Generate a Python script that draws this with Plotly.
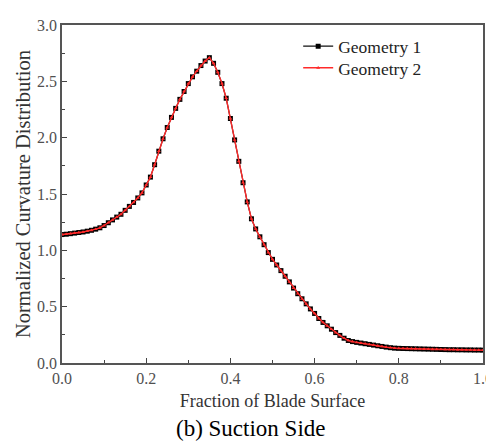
import plotly.graph_objects as go

fraction = [i / 100 for i in range(101)]

geometry_1 = [
    1.140, 1.143, 1.148, 1.153, 1.158, 1.163, 1.170, 1.178, 1.188, 1.200,
    1.220, 1.245, 1.270, 1.295, 1.320, 1.355, 1.390, 1.425, 1.465, 1.510,
    1.580, 1.650, 1.760, 1.880, 1.990, 2.090, 2.180, 2.260, 2.340, 2.410,
    2.480, 2.540, 2.590, 2.640, 2.680, 2.710, 2.660, 2.580, 2.480, 2.350,
    2.170, 1.980, 1.790, 1.600, 1.430, 1.280, 1.190, 1.120, 1.050, 0.980,
    0.920, 0.870, 0.820, 0.770, 0.720, 0.665, 0.615, 0.570, 0.525, 0.480,
    0.440, 0.395, 0.360, 0.330, 0.300, 0.270, 0.245, 0.220, 0.200, 0.190,
    0.183, 0.177, 0.171, 0.165, 0.159, 0.153, 0.147, 0.141, 0.136, 0.132,
    0.130, 0.129, 0.128, 0.127, 0.126, 0.125, 0.124, 0.123, 0.122, 0.121,
    0.120, 0.119, 0.118, 0.118, 0.117, 0.117, 0.116, 0.116, 0.115, 0.115,
    0.114,
]

geometry_2 = [
    1.140, 1.143, 1.148, 1.153, 1.158, 1.163, 1.170, 1.178, 1.188, 1.200,
    1.220, 1.245, 1.270, 1.295, 1.320, 1.355, 1.390, 1.425, 1.465, 1.510,
    1.580, 1.650, 1.760, 1.880, 1.990, 2.090, 2.180, 2.260, 2.340, 2.410,
    2.480, 2.540, 2.590, 2.640, 2.680, 2.710, 2.660, 2.580, 2.480, 2.350,
    2.170, 1.980, 1.790, 1.600, 1.430, 1.280, 1.190, 1.120, 1.050, 0.980,
    0.920, 0.870, 0.820, 0.770, 0.720, 0.665, 0.615, 0.570, 0.525, 0.480,
    0.440, 0.395, 0.360, 0.330, 0.300, 0.270, 0.245, 0.220, 0.200, 0.190,
    0.183, 0.177, 0.171, 0.165, 0.159, 0.153, 0.147, 0.141, 0.136, 0.132,
    0.130, 0.129, 0.128, 0.127, 0.126, 0.125, 0.124, 0.123, 0.122, 0.121,
    0.120, 0.119, 0.118, 0.118, 0.117, 0.117, 0.116, 0.116, 0.115, 0.115,
    0.114,
]

x_ticks = [0.0, 0.2, 0.4, 0.6, 0.8, 1.0]
x_tick_labels = ["0.0", "0.2", "0.4", "0.6", "0.8", "1.0"]
y_ticks = [0.0, 0.5, 1.0, 1.5, 2.0, 2.5, 3.0]
y_tick_labels = ["0.0", "0.5", "1.0", "1.5", "2.0", "2.5", "3.0"]

FONT = "Liberation Serif"

fig = go.Figure()
fig.add_trace(go.Scatter(
    x=fraction, y=geometry_1, name="Geometry 1", mode="lines+markers",
    line=dict(color="#111111", width=1.2),
    marker=dict(symbol="square", size=5, color="#000000"),
    legend="legend",
))
fig.add_trace(go.Scatter(
    x=fraction, y=geometry_2, name="Geometry 2", mode="lines+markers",
    line=dict(color="#ff2a2a", width=1.4),
    marker=dict(symbol="triangle-up", size=3.5, color="#ff2a2a"),
    legend="legend2",
))

axis_common = dict(
    showgrid=False, zeroline=False, showline=True, mirror=True,
    linecolor="#555555", linewidth=1.5,
    ticks="inside", ticklen=5, tickwidth=1.2, tickcolor="#444444",
    tickfont=dict(family=FONT, size=16, color="#505050"),
    ticklabeloverflow="allow",
    minor=dict(ticks="inside", ticklen=3, tickwidth=1, tickcolor="#444444"),
)

fig.update_xaxes(
    range=[0, 1], tickvals=x_ticks, ticktext=x_tick_labels,
    minor_dtick=0.1,
    title=dict(text="Fraction of Blade Surface",
               font=dict(family=FONT, size=18, color="#333333"), standoff=8),
    **axis_common,
)
fig.update_yaxes(
    range=[0, 3], tickvals=y_ticks, ticktext=y_tick_labels,
    minor_dtick=0.25,
    title=dict(text="Normalized Curvature Distribution",
               font=dict(family=FONT, size=20.5, color="#333333"), standoff=1),
    **axis_common,
)

fig.add_annotation(
    text="(b) Suction Side", xref="paper", yref="paper",
    x=0.45, y=-0.195, xanchor="center", yanchor="middle", showarrow=False,
    font=dict(family=FONT, size=23, color="#000000"),
)

legend_style = dict(
    xanchor="left", yanchor="middle",
    font=dict(family=FONT, size=17.5, color="#222222"),
    bgcolor="rgba(0,0,0,0)",
)

fig.update_layout(
    width=494, height=446,
    margin=dict(l=54, r=9, t=10, b=91),
    paper_bgcolor="white", plot_bgcolor="white",
    showlegend=True,
    legend=dict(x=0.561, y=0.937, **legend_style),
    legend2=dict(x=0.561, y=0.873, **legend_style),
)

fig.write_html("out.html")
